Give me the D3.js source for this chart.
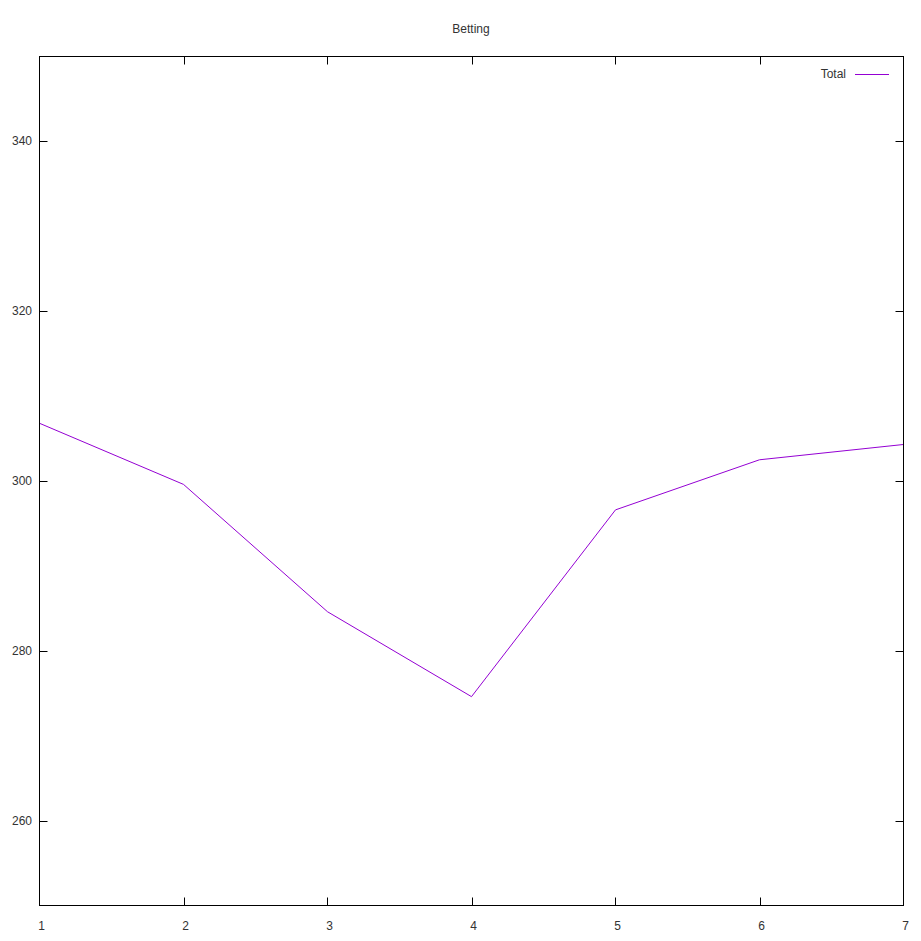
<!DOCTYPE html>
<html lang="en">
<head>
	<meta charset="UTF-8">
	<title>Betting</title>
	<style>
		body { margin: 0; background: #fff; }
		svg text { font-family: "Liberation Sans", Arial, sans-serif; font-size: 12px; fill: #333; }
	</style>
</head>
<body>
	<script src="https://d3js.org/d3.v7.min.js"></script>
	<script>
		var xValues = [1, 2, 3, 4, 5, 6, 7];
		var totals = [306.8, 299.6, 284.6, 274.6, 296.6, 302.5, 304.3];
		var yTicks = [260, 280, 300, 320, 340];
		var xTicks = [1, 2, 3, 4, 5, 6, 7];

		// note: "top" is taken by window.top, so plot edges get a prefix
		var w = 921, h = 941,
			pLeft = 39.5, pRight = 903.5, pTop = 56.5, pBottom = 905.5;

		var svg = d3.select("body").append("svg")
			.attr("width", w)
			.attr("height", h);

		var x = d3.scaleLinear().domain([1, 7]).range([pLeft, pRight]);
		var y = d3.scaleLinear().domain([250, 350]).range([pBottom, pTop]);

		// title
		svg.append("text")
			.attr("x", 471).attr("y", 33)
			.attr("text-anchor", "middle")
			.text("Betting");

		// ticks, drawn inward on all four sides
		var tickLen = 8;
		svg.selectAll("line.yt").data(yTicks).enter().append("line")
			.attr("x1", pLeft).attr("x2", pLeft + tickLen)
			.attr("y1", function(d) { return Math.round(y(d)) + 0.5; })
			.attr("y2", function(d) { return Math.round(y(d)) + 0.5; })
			.attr("stroke", "#000");
		svg.selectAll("line.yt2").data(yTicks).enter().append("line")
			.attr("x1", pRight).attr("x2", pRight - tickLen)
			.attr("y1", function(d) { return Math.round(y(d)) + 0.5; })
			.attr("y2", function(d) { return Math.round(y(d)) + 0.5; })
			.attr("stroke", "#000");
		svg.selectAll("line.xt").data(xTicks.slice(1, -1)).enter().append("line")
			.attr("x1", function(d) { return Math.round(x(d)) + 0.5; })
			.attr("x2", function(d) { return Math.round(x(d)) + 0.5; })
			.attr("y1", pBottom).attr("y2", pBottom - tickLen)
			.attr("stroke", "#000");
		svg.selectAll("line.xt2").data(xTicks.slice(1, -1)).enter().append("line")
			.attr("x1", function(d) { return Math.round(x(d)) + 0.5; })
			.attr("x2", function(d) { return Math.round(x(d)) + 0.5; })
			.attr("y1", pTop).attr("y2", pTop + tickLen)
			.attr("stroke", "#000");

		// tick labels
		svg.selectAll("text.yl").data(yTicks).enter().append("text")
			.attr("x", 32)
			.attr("y", function(d) { return y(d) + 4; })
			.attr("text-anchor", "end")
			.text(function(d) { return d; });
		svg.selectAll("text.xl").data(xTicks).enter().append("text")
			.attr("x", function(d) { return x(d) + 2; })
			.attr("y", 930)
			.attr("text-anchor", "middle")
			.text(function(d) { return d; });

		// data line
		var line = d3.line()
			.x(function(d, i) { return x(xValues[i]); })
			.y(function(d) { return y(d); });
		svg.append("path")
			.datum(totals)
			.attr("d", line)
			.attr("fill", "none")
			.attr("stroke", "#9400d3")
			.attr("stroke-width", 1);

		// frame
		svg.append("rect")
			.attr("x", pLeft).attr("y", pTop)
			.attr("width", pRight - pLeft).attr("height", pBottom - pTop)
			.attr("fill", "none")
			.attr("stroke", "#000");

		// legend
		svg.append("text")
			.attr("x", 846).attr("y", 78)
			.attr("text-anchor", "end")
			.text("Total");
		svg.append("line")
			.attr("x1", 855).attr("x2", 889)
			.attr("y1", 74.5).attr("y2", 74.5)
			.attr("stroke", "#9400d3");
	</script>
</body>
</html>
